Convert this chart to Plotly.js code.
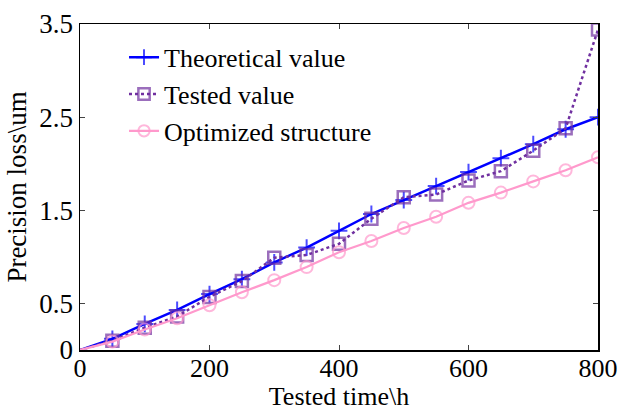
<!DOCTYPE html>
<html>
<head>
<meta charset="utf-8">
<script src="https://cdn.plot.ly/plotly-3.0.1.min.js"></script>
<style>html,body{margin:0;padding:0;background:#fff;}#chart{width:621px;height:411px;}</style>
</head>
<body>
<div id="chart"></div>
<script>
const timeHours = [0, 50, 100, 150, 200, 250, 300, 350, 400, 450, 500, 550, 600, 650, 700, 750, 800];
const theoretical = [0, 0.12, 0.28, 0.43, 0.60, 0.76, 0.94, 1.10, 1.28, 1.46, 1.61, 1.76, 1.91, 2.06, 2.21, 2.37, 2.50];
const tested = [0, 0.10, 0.24, 0.36, 0.57, 0.74, 0.99, 1.02, 1.14, 1.41, 1.64, 1.67, 1.82, 1.92, 2.14, 2.38, 3.44];
const optimized = [0, 0.09, 0.22, 0.34, 0.48, 0.62, 0.75, 0.89, 1.05, 1.17, 1.31, 1.43, 1.58, 1.69, 1.81, 1.93, 2.07];
const seriesNames = ["Theoretical value", "Tested value", "Optimized structure"];
const yTicks = [0, 0.5, 1.5, 2.5, 3.5];
const yTickLabels = ["0", "0.5", "1.5", "2.5", "3.5"];
const xTicks = [0, 200, 400, 600, 800];

const sizes = (s) => timeHours.map((t, i) => i === 0 ? 0 : s);

const traces = [
  {x: timeHours, y: theoretical, name: seriesNames[0], mode: 'lines+markers',
   line: {color: '#0000FF', width: 2.5},
   marker: {symbol: 'cross-thin-open', size: sizes(12), line: {color: '#0000FF', width: 2}}},
  {x: timeHours, y: tested, name: seriesNames[1], mode: 'lines+markers',
   line: {color: '#7030A0', width: 2.5, dash: 'dot'},
   marker: {symbol: 'square-open', size: sizes(12), color: '#7030A0', line: {color: '#7030A0', width: 2.5}}},
  {x: timeHours, y: optimized, name: seriesNames[2], mode: 'lines+markers',
   line: {color: '#FF99CC', width: 2.2},
   marker: {symbol: 'circle-open', size: sizes(12), color: '#FF99CC', line: {color: '#FF99CC', width: 2}}}
];

const layout = {
  width: 621, height: 411,
  margin: {l: 80, r: 23, t: 24, b: 61},
  paper_bgcolor: '#fff', plot_bgcolor: '#fff',
  font: {family: '"Liberation Serif", "Times New Roman", serif', size: 26, color: '#000'},
  showlegend: true,
  legend: {x: 0.085, y: 0.97, xanchor: 'left', yanchor: 'top', bgcolor: 'rgba(0,0,0,0)',
           font: {size: 26}, tracegroupgap: 0},
  xaxis: {range: [0, 800], tickvals: xTicks, ticks: 'inside', ticklen: 5, tickwidth: 1,
          showline: true, linecolor: '#000', linewidth: 1.5, mirror: 'ticks', showgrid: false,
          zeroline: false, ticklabelstandoff: -6,
          title: {text: 'Tested time\\h', font: {size: 26}, standoff: 6},
          tickfont: {size: 26}},
  yaxis: {range: [0, 3.5], tickvals: yTicks, ticktext: yTickLabels, ticks: 'inside', ticklen: 5, tickwidth: 1,
          showline: true, linecolor: '#000', linewidth: 1.5, mirror: 'ticks', showgrid: false,
          zeroline: false, title: {text: 'Precision loss\\um', font: {size: 27}, standoff: 5},
          tickfont: {size: 27}}
};

Plotly.newPlot('chart', traces, layout, {displayModeBar: false, staticPlot: true});
</script>
</body>
</html>
